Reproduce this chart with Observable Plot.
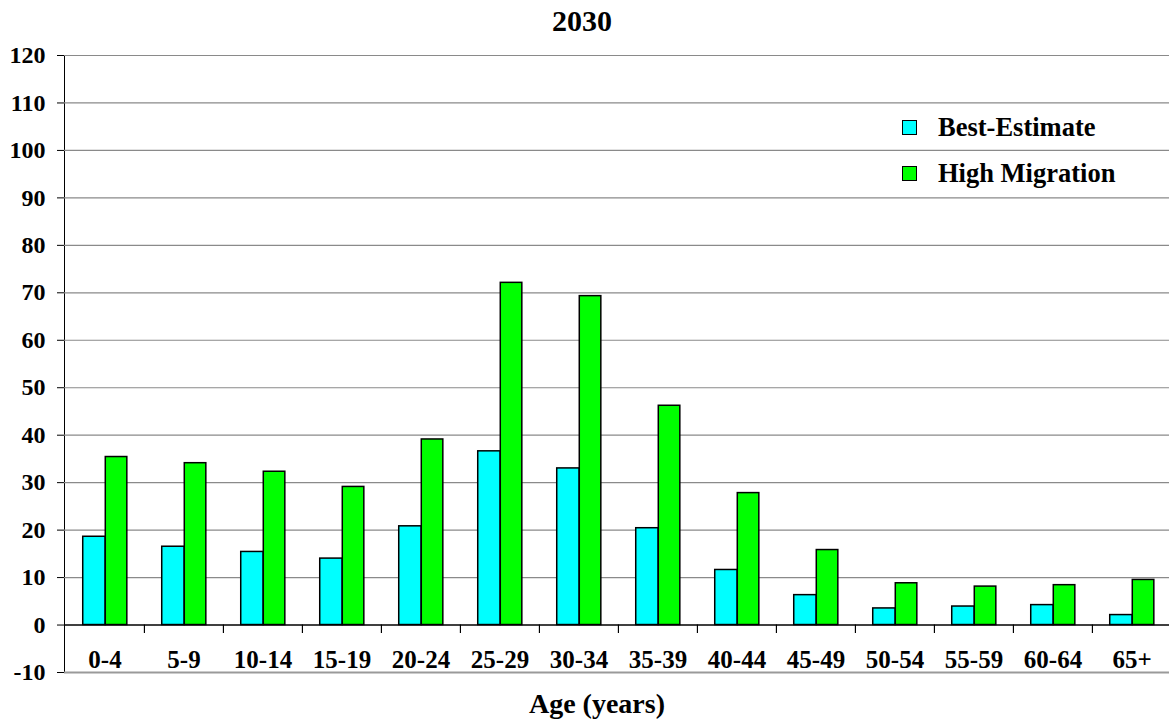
<!DOCTYPE html>
<html>
<head>
<meta charset="utf-8">
<script src="https://cdn.jsdelivr.net/npm/d3@7"></script>
<script src="https://cdn.jsdelivr.net/npm/@observablehq/plot@0.6"></script>
<style>
  html, body { margin: 0; padding: 0; background: #fff; overflow: hidden; }
  body { width: 1169px; height: 723px; position: relative; font-family: "Liberation Serif", "Times New Roman", serif; font-weight: bold; color: #000; }
  #title { position: absolute; left: 0; width: 1164px; top: 6px; text-align: center; font-size: 30px; line-height: 1; }
  #chart { position: absolute; left: 0; top: 30px; }
  #xlabel { position: absolute; left: 397px; width: 400px; top: 690px; text-align: center; font-size: 28px; line-height: 1; }
  .leg { position: absolute; left: 902px; font-size: 26.5px; line-height: 1; white-space: nowrap; }
  .leg .sw { position: absolute; left: 0; width: 13px; height: 13px; border: 1.5px solid #000; }
  .leg .lab { position: absolute; left: 36px; top: 0; }
</style>
</head>
<body>
<div id="title">2030</div>
<div id="chart"></div>
<div id="xlabel">Age (years)</div>
<div id="legend"></div>
<script>
// ---- Data ----
const ages = ["0-4", "5-9", "10-14", "15-19", "20-24", "25-29", "30-34", "35-39", "40-44", "45-49", "50-54", "55-59", "60-64", "65+"];
const bestEstimate = [18.6, 16.5, 15.4, 14.0, 20.8, 36.6, 33.0, 20.4, 11.6, 6.3, 3.5, 3.9, 4.2, 2.1];
const highMigration = [35.4, 34.1, 32.3, 29.1, 39.1, 72.1, 69.3, 46.2, 27.8, 15.8, 8.8, 8.1, 8.4, 9.5];
const yTicks = [-10, 0, 10, 20, 30, 40, 50, 60, 70, 80, 90, 100, 110, 120];
const seriesNames = ["Best-Estimate", "High Migration"];
const seriesColors = ["#00ffff", "#00ff00"];

const bestRows = ages.map((age, i) => ({age, series: seriesNames[0], value: bestEstimate[i]}));
const highRows = ages.map((age, i) => ({age, series: seriesNames[1], value: highMigration[i]}));
const yMin = yTicks[0];

// ---- Layout ----
const W = 1169, H = 693;
const mL = 64, mR = -3, mT = 25, mB = 51;
const step = (W - mL - mR) / ages.length;

const plot = Plot.plot({
  width: W,
  height: H,
  marginLeft: mL,
  marginRight: mR,
  marginTop: mT,
  marginBottom: mB,
  style: {fontFamily: "'Liberation Serif', 'Times New Roman', serif", fontSize: "24px", fontWeight: "bold", color: "#000", background: "transparent", overflow: "visible"},
  x: {type: "band", domain: ages, padding: 0, axis: null},
  y: {domain: [yMin, yTicks[yTicks.length - 1]], ticks: yTicks, tickSize: 7, tickPadding: 12, line: true, label: null, tickFormat: d => String(d)},
  marks: [
    Plot.ruleY(yTicks.filter(v => v > yMin && v !== 0), {stroke: "#8a8a8a", strokeWidth: 1.2}),
    Plot.ruleY([yMin], {stroke: "#9a9a9a", strokeWidth: 2}),
    Plot.barY(bestRows, {x: "age", y: "value", fill: seriesColors[0], stroke: "#000", strokeWidth: 1.5,
      insetLeft: step * 0.224, insetRight: step * 0.491}),
    Plot.barY(highRows, {x: "age", y: "value", fill: seriesColors[1], stroke: "#000", strokeWidth: 1.5,
      insetLeft: step * 0.509, insetRight: step * 0.217}),
    Plot.ruleY([0], {stroke: "#000", strokeWidth: 1.5}),
    Plot.ruleX(ages.slice(1), {x: d => d, y1: 0, y2: yMin, dx: -step / 2, insetBottom: 39, stroke: "#000", strokeWidth: 1.2}),
    Plot.text(ages, {x: d => d, y: () => yMin, dy: -5, lineAnchor: "bottom", text: d => d,
      fontSize: 25, fontWeight: "bold", fill: "#000"})
  ]
});
document.getElementById("chart").appendChild(plot);

// ---- Legend ----
const legend = document.getElementById("legend");
const legendTops = [114, 160];
seriesNames.forEach((name, i) => {
  const item = document.createElement("div");
  item.className = "leg";
  item.style.top = legendTops[i] + "px";
  const sw = document.createElement("div");
  sw.className = "sw";
  sw.style.background = seriesColors[i];
  sw.style.top = "6px";
  const lab = document.createElement("div");
  lab.className = "lab";
  lab.textContent = name;
  item.appendChild(sw);
  item.appendChild(lab);
  legend.appendChild(item);
});
</script>
</body>
</html>
